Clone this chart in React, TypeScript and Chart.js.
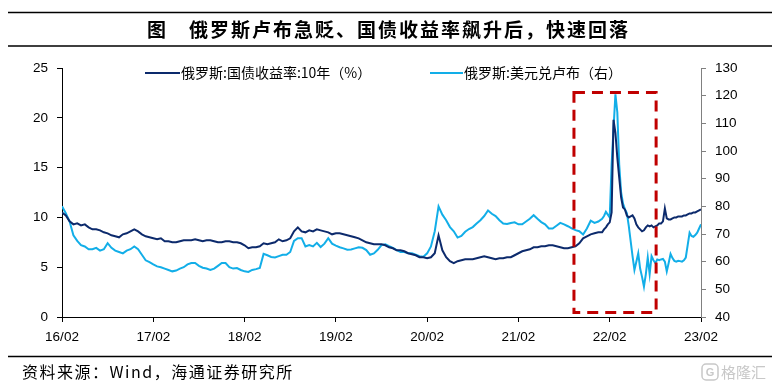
import { useEffect, useRef } from 'react';
import { Chart, registerables } from 'chart.js';

Chart.register(...registerables);

// ---------- data ----------
const tickLabels = ['16/02', '17/02', '18/02', '19/02', '20/02', '21/02', '22/02', '23/02'];

// months since 2016-02: half-monthly to 2022-01, weekly afterwards
const halfMonthSteps = Array.from({ length: 143 }, (_, i) => i * 0.5);
const weeklySteps = Array.from({ length: 52 }, (_, i) => 71.25 + i * 0.25);
const monthOffsets = [...halfMonthSteps, ...weeklySteps];

// 俄罗斯:国债收益率:10年 (%)
const yieldValues = [
  10.5, 10.2, 9.6, 9.3, 9.4, 9.2, 9.3, 9.0, 8.8, 8.8,
  8.7, 8.5, 8.4, 8.2, 8.1, 8.0, 8.3, 8.4, 8.6, 8.8,
  8.6, 8.3, 8.1, 8.0, 7.9, 7.8, 7.9, 7.6, 7.6, 7.5,
  7.5, 7.6, 7.7, 7.7, 7.7, 7.8, 7.7, 7.6, 7.7, 7.7,
  7.6, 7.5, 7.5, 7.6, 7.6, 7.5, 7.5, 7.4, 7.2, 6.9,
  7.0, 7.0, 7.1, 7.4, 7.3, 7.4, 7.5, 7.8, 7.6, 7.7,
  7.9, 8.6, 9.0, 8.6, 8.5, 8.7, 8.6, 8.8, 8.7, 8.6,
  8.5, 8.3, 8.4, 8.4, 8.3, 8.2, 8.1, 8.0, 7.9, 7.7,
  7.5, 7.4, 7.3, 7.3, 7.3, 7.2, 7.0, 6.9, 6.7, 6.7,
  6.6, 6.4, 6.3, 6.2, 6.0, 6.0, 5.9, 6.0, 6.4, 8.2,
  6.7, 6.0, 5.6, 5.4, 5.6, 5.7, 5.8, 5.8, 5.8, 5.9,
  6.0, 6.1, 6.0, 5.9, 5.8, 5.9, 5.9, 6.0, 6.0, 6.2,
  6.4, 6.6, 6.7, 6.8, 7.0, 7.0, 7.1, 7.1, 7.2, 7.2,
  7.1, 7.0, 6.9, 6.9, 7.0, 7.1, 7.4, 7.9, 8.1, 8.3,
  8.4, 8.5, 8.5,
  8.8, 9.0, 9.3, 9.5, 10.5, 19.8,
  18.5, 16.0, 14.0, 12.0, 11.0, 10.8,
  10.2, 10.0, 10.1, 10.2, 9.9, 9.3,
  9.0, 8.8, 8.6, 8.7, 9.0, 9.2,
  9.1, 9.2, 9.0, 9.1, 9.2, 9.4,
  9.4, 9.6, 10.9, 9.9, 9.8, 9.8,
  9.9, 10.0, 10.0, 10.1, 10.1, 10.1,
  10.2, 10.2, 10.3, 10.4, 10.4, 10.5,
  10.5, 10.6, 10.7, 10.8,
];

// 俄罗斯:美元兑卢布 (右)
const rubleValues = [
  80, 77.5, 74.5, 69.5, 67.5, 66, 65.5, 64.5, 64.5, 65,
  64, 64.5, 66.7, 65, 64, 63.5, 63, 64, 64.5, 65.5,
  64.5, 62.5, 60.5, 59.8, 59, 58.3, 58, 57.5, 57, 56.5,
  56.8, 57.5, 58, 59, 59.5, 59.5, 58.5, 57.8, 57.5, 57,
  57.5, 58.5, 59.5, 59.5, 58, 57.5, 57.7, 57, 56.5, 56.3,
  57, 57.3, 57.7, 62.8, 62.3, 61.7, 61.5, 62, 62.5, 62.5,
  63.5, 67.5, 68.5, 68.5, 65.5, 66, 65.5, 66.8, 65.3, 66.5,
  68.5, 66.5, 65.8, 65.2, 64.8, 64.3, 64.4, 64.8, 65.2, 65,
  64.2, 62.5, 63, 64.3, 66, 66.3, 65.6, 65, 64.2, 63.5,
  63.5, 63, 63, 62.5, 62, 61.8, 63, 65.5, 71, 80,
  77, 75, 72.5, 71, 68.7, 69.3, 70.8, 71.8, 72.5, 73.8,
  75, 76.5, 78.5, 77.3, 76.5, 75, 73.8, 73.6, 74, 74.2,
  73.5, 73.5, 74.5, 75.5, 76.8, 75.5, 74.3, 73.5, 72, 72,
  73, 74, 73.5, 72.8, 72, 71.4, 71, 69.8, 72, 74.8,
  74, 74.5, 75.5,
  76.5, 78, 77, 76, 95, 108,
  120.5, 114, 95, 85, 81, 79,
  77.6, 73, 67.5, 62, 57, 60,
  63, 57.5, 54.5, 51, 55.5, 61.5,
  55.5, 62, 60.5, 59.5, 60.8, 60.5,
  60.8, 61, 60, 56.5, 59.5, 62.8,
  61.3, 60.3, 60, 60.3, 60.2, 60,
  60.5, 61.5, 66, 70.5, 69.3, 69,
  69.6, 70.5, 72, 73.5,
];

// highlighted period (months since 2016-02) and right-axis range
const highlightStart = 67.3;
const highlightEnd = 78.1;
const highlightTop = 121.1;
const highlightBottom = 41.6;

const titleLead = '图';
const titleText = '俄罗斯卢布急贬、国债收益率飙升后，快速回落';
const legendYield = '俄罗斯:国债收益率:10年（%）';
const legendRuble = '俄罗斯:美元兑卢布（右）';
const sourceText = '资料来源：Wind，海通证券研究所';

const NAVY = '#0c2a6c';
const SKY = '#12aee8';
const RED = '#c00000';
const CJK = '"Noto Sans CJK SC", "Noto Sans", sans-serif';
const LAT = '"Liberation Sans", Arial, sans-serif';

const decorPlugin = {
  id: 'decor',
  beforeDraw(chart: any) {
    const { ctx, width, height } = chart;
    ctx.save();
    ctx.fillStyle = '#ffffff';
    ctx.fillRect(0, 0, width, height);
    ctx.restore();
  },
  afterDraw(chart: any) {
    const { ctx } = chart;
    ctx.save();
    // title rules
    ctx.strokeStyle = '#000';
    ctx.lineWidth = 1.5;
    ctx.beginPath();
    ctx.moveTo(8, 12.5);
    ctx.lineTo(772, 12.5);
    ctx.moveTo(8, 46);
    ctx.lineTo(772, 46);
    ctx.stroke();

    // title
    ctx.fillStyle = '#000';
    ctx.textBaseline = 'middle';
    ctx.textAlign = 'left';
    ctx.font = `bold 19px ${CJK}`;
    ctx.fillText(titleLead, 147, 29.5);
    (ctx as any).letterSpacing = '2px';
    ctx.fillText(titleText, 189, 29.5);
    (ctx as any).letterSpacing = '0px';

    // legend
    ctx.lineWidth = 2;
    ctx.strokeStyle = NAVY;
    ctx.beginPath();
    ctx.moveTo(145, 73);
    ctx.lineTo(180, 73);
    ctx.stroke();
    ctx.strokeStyle = SKY;
    ctx.beginPath();
    ctx.moveTo(430, 73);
    ctx.lineTo(463, 73);
    ctx.stroke();
    ctx.font = `14px ${CJK}`;
    ctx.fillStyle = '#000';
    ctx.fillText(legendYield, 181, 73);
    ctx.fillText(legendRuble, 464, 73);

    // highlight box
    const xs = chart.scales.x;
    const yr = chart.scales.y1;
    const x0 = xs.getPixelForValue(highlightStart);
    const x1 = xs.getPixelForValue(highlightEnd);
    const y0 = yr.getPixelForValue(highlightTop);
    const y1 = yr.getPixelForValue(highlightBottom);
    ctx.strokeStyle = RED;
    ctx.lineWidth = 3;
    ctx.setLineDash([11, 7]);
    ctx.strokeRect(x0, y0, x1 - x0, y1 - y0);
    ctx.setLineDash([]);

    // source rule + text
    ctx.strokeStyle = '#000';
    ctx.lineWidth = 1.5;
    ctx.beginPath();
    ctx.moveTo(8, 356.5);
    ctx.lineTo(772, 356.5);
    ctx.stroke();
    ctx.font = `16px ${CJK}`;
    ctx.fillStyle = '#000';
    (ctx as any).letterSpacing = '1.5px';
    ctx.fillText(sourceText, 22, 372);
    (ctx as any).letterSpacing = '0px';

    // watermark
    ctx.strokeStyle = '#c8c8c8';
    ctx.lineWidth = 1.5;
    ctx.beginPath();
    (ctx as any).roundRect(702, 364, 16, 16, 4);
    ctx.stroke();
    ctx.fillStyle = '#c8c8c8';
    ctx.font = `bold 11px ${LAT}`;
    ctx.textAlign = 'center';
    ctx.fillText('G', 710, 372.5);
    ctx.textAlign = 'left';
    ctx.font = `15px ${CJK}`;
    ctx.fillText('格隆汇', 721, 372);
    ctx.restore();
  },
};

export default function App() {
  const ref = useRef<HTMLCanvasElement | null>(null);

  useEffect(() => {
    document.body.style.margin = '0';
    document.body.style.background = '#fff';
    const canvas = ref.current;
    if (!canvas) return;
    const tickFont = { family: LAT, size: 13.5 };
    const chart = new Chart(canvas, {
      type: 'line',
      data: {
        datasets: [
          {
            label: legendYield,
            data: monthOffsets.map((x, i) => ({ x, y: yieldValues[i] })),
            borderColor: NAVY,
            borderWidth: 2,
            pointRadius: 0,
            tension: 0,
            yAxisID: 'y',
          },
          {
            label: legendRuble,
            data: monthOffsets.map((x, i) => ({ x, y: rubleValues[i] })),
            borderColor: SKY,
            borderWidth: 2,
            pointRadius: 0,
            tension: 0,
            yAxisID: 'y1',
          },
        ],
      },
      options: {
        responsive: false,
        animation: false,
        devicePixelRatio: 1,
        layout: { padding: { top: 68, left: 0, right: 0, bottom: 0 } },
        plugins: {
          legend: { display: false },
          tooltip: { enabled: false },
          title: { display: false },
        },
        scales: {
          x: {
            type: 'linear',
            min: 0,
            max: 84,
            afterFit: (s: any) => {
              s.height = 72;
            },
            ticks: {
              stepSize: 12,
              autoSkip: false,
              maxRotation: 0,
              padding: 7,
              color: '#000',
              font: tickFont,
              callback: (v: any) => tickLabels[Math.round(Number(v) / 12)] ?? '',
            },
            grid: { drawOnChartArea: false, drawTicks: true, tickLength: 5, color: '#000' },
            border: { color: '#000', width: 1 },
          },
          y: {
            position: 'left',
            min: 0,
            max: 25,
            afterFit: (s: any) => {
              s.width = 62;
            },
            ticks: { stepSize: 5, padding: 9, color: '#000', font: tickFont },
            grid: { drawOnChartArea: false, drawTicks: true, tickLength: 5, color: '#000' },
            border: { color: '#000', width: 1 },
          },
          y1: {
            position: 'right',
            min: 40,
            max: 130,
            afterFit: (s: any) => {
              s.width = 79;
            },
            ticks: { stepSize: 10, padding: 9, color: '#000', font: tickFont },
            grid: { drawOnChartArea: false, drawTicks: true, tickLength: 5, color: '#808080' },
            border: { color: '#808080', width: 1 },
          },
        },
      },
      plugins: [decorPlugin],
    } as any);
    return () => chart.destroy();
  }, []);

  return (
    <canvas
      ref={ref}
      width={780}
      height={389}
      style={{ display: 'block', width: 780, height: 389 }}
    />
  );
}
